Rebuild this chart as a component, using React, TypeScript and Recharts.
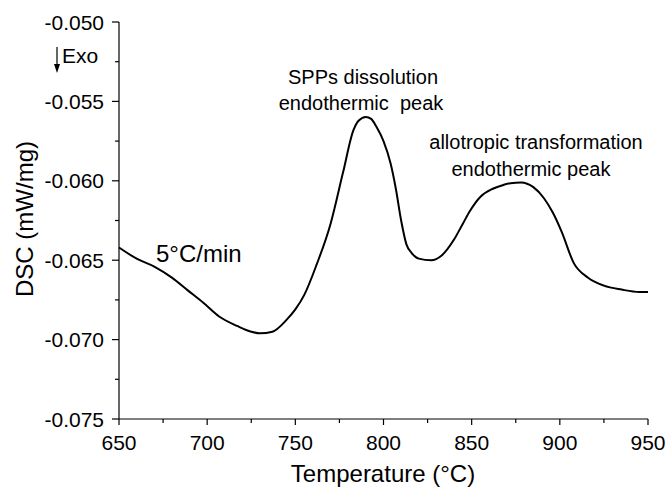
import { Line, LineChart, XAxis, YAxis } from "recharts";

const temps = [
  650, 660, 670, 680, 689, 698, 707, 717, 725, 730, 737, 745, 750, 755, 762,
  770, 777, 783, 786, 790, 793, 796, 800, 804, 807, 810, 813, 816, 820, 827,
  833, 840, 845, 849, 855, 862, 868, 872, 878, 885, 891, 896, 901, 908, 916,
  925, 935, 945, 950,
];
const dsc = [
  -0.0642, -0.0649, -0.0654, -0.0661, -0.0669, -0.0677, -0.06856, -0.06914,
  -0.0695, -0.0696, -0.0695, -0.06876, -0.0681, -0.0672, -0.0653, -0.0627,
  -0.0595, -0.0568, -0.0562, -0.05598, -0.0561, -0.0566, -0.0575, -0.0589,
  -0.0605, -0.0625, -0.064, -0.06455, -0.0649, -0.065, -0.0647, -0.0637,
  -0.0627, -0.0619, -0.061, -0.0605, -0.06026, -0.06015, -0.0601, -0.0604,
  -0.0611, -0.062, -0.0632, -0.0652, -0.0661, -0.0666, -0.06685, -0.067,
  -0.067,
];

const xTicks = [650, 675, 700, 725, 750, 775, 800, 825, 850, 875, 900, 925, 950];
const yTicks = [
  -0.075, -0.0725, -0.07, -0.0675, -0.065, -0.0625, -0.06, -0.0575, -0.055,
  -0.0525, -0.05,
];

const data = temps.map((t, i) => ({ t, v: dsc[i] }));

const font = "'Liberation Sans', Arial, sans-serif";

const XTick = (props: any) => {
  const { x, y, payload } = props;
  const major = payload.value % 50 === 0;
  return (
    <g>
      <line x1={x} y1={y} x2={x} y2={y + (major ? 6 : 4)} stroke="#000" strokeWidth={1.2} />
      {major && (
        <text x={x} y={y + 31} textAnchor="middle" fontSize={21} fill="#000" fontFamily={font}>
          {payload.value}
        </text>
      )}
    </g>
  );
};

const YTick = (props: any) => {
  const { x, y, payload } = props;
  const major = Math.round(payload.value * 10000) % 50 === 0;
  return (
    <g>
      <line x1={x} y1={y} x2={x - (major ? 7 : 4)} y2={y} stroke="#000" strokeWidth={1.2} />
      {major && (
        <text x={x - 15} y={y + 7.5} textAnchor="end" fontSize={21} fill="#000" fontFamily={font}>
          {payload.value.toFixed(3)}
        </text>
      )}
    </g>
  );
};

export default function App() {
  return (
    <div style={{ position: "absolute", left: 0, top: 0, width: 669, height: 488, background: "#fff" }}>
      <LineChart
        width={669}
        height={488}
        data={data}
        margin={{ top: 22, right: 21, bottom: 0, left: 0 }}
        style={{ fontFamily: font }}
      >
        <XAxis
          dataKey="t"
          type="number"
          domain={[650, 950]}
          ticks={xTicks}
          height={69}
          tickSize={0}
          tickMargin={0}
          tickLine={false}
          tick={XTick}
          axisLine={{ stroke: "#000", strokeWidth: 1.2 }}
          interval={0}
        />
        <YAxis
          type="number"
          domain={[-0.075, -0.05]}
          ticks={yTicks}
          width={119}
          tickSize={0}
          tickMargin={0}
          tickLine={false}
          tick={YTick}
          axisLine={{ stroke: "#000", strokeWidth: 1.2 }}
          interval={0}
          allowDataOverflow
        />
        <Line
          dataKey="v"
          type="monotone"
          stroke="#000"
          strokeWidth={2}
          dot={false}
          isAnimationActive={false}
        />
        <g fontFamily={font} fill="#000">
          <text x={383} y={482} textAnchor="middle" fontSize={24}>
            Temperature (°C)
          </text>
          <text x={33} y={219} textAnchor="middle" fontSize={24} transform="rotate(-90 33 219)">
            DSC (mW/mg)
          </text>
          <text x={156} y={262} fontSize={24}>
            5°C/min
          </text>
          <text x={363} y={84} textAnchor="middle" fontSize={20}>
            SPPs dissolution
          </text>
          <text x={361} y={110} textAnchor="middle" fontSize={20} style={{ whiteSpace: "pre" }}>
            {"endothermic  peak"}
          </text>
          <text x={536} y={149} textAnchor="middle" fontSize={20}>
            allotropic transformation
          </text>
          <text x={531} y={176} textAnchor="middle" fontSize={20}>
            endothermic peak
          </text>
          <text x={62} y={63} fontSize={21}>
            Exo
          </text>
          <line x1={57} y1={47} x2={57} y2={66} stroke="#000" strokeWidth={1.2} />
          <polygon points="54,64 60,64 57,73" fill="#000" />
        </g>
      </LineChart>
    </div>
  );
}
